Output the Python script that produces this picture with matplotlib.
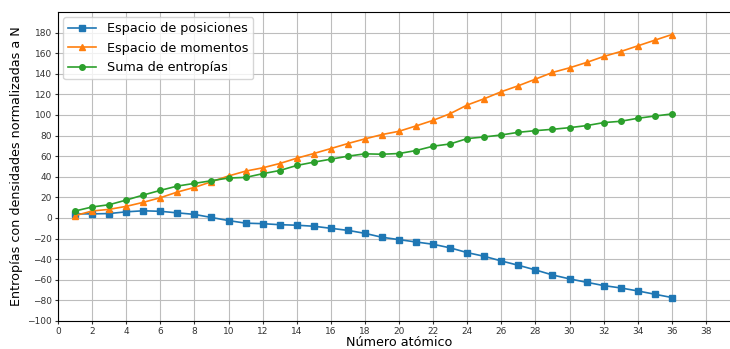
import matplotlib
matplotlib.use("Agg")
import matplotlib.pyplot as plt
import numpy as np

# numero atomico
Z = list(range(1, 37))

# entropia en espacio de posiciones
posiciones = [4.0, 4.0, 4.3, 6.0, 7.0, 6.5, 5.0, 3.5, 0.5, -2.5, -5.0, -5.5,
              -6.5, -7.0, -8.0, -10.0, -12.0, -14.9, -18.7, -21.0, -23.3, -25.5,
              -29.0, -33.6, -37.2, -41.7, -45.9, -50.4, -55.3, -59.1, -62.4, -65.6,
              -67.9, -70.8, -74.0, -77.2]

# entropia en espacio de momentos
momentos = [2.3, 6.8, 8.4, 11.3, 15.2, 19.7, 25.2, 29.7, 35.2, 40.8, 45.5, 48.7,
            52.9, 58.0, 62.6, 67.4, 72.3, 76.8, 81.0, 84.2, 89.4, 94.8, 101.3, 109.7,
            115.8, 122.6, 128.4, 134.8, 141.3, 145.8, 151.0, 156.8, 161.6, 167.1,
            172.6, 178.1]

# suma de entropias
suma = [6.8, 10.7, 12.9, 17.4, 22.3, 26.8, 31.0, 33.6, 36.2, 38.8, 39.4, 43.0,
        46.1, 51.0, 54.2, 57.1, 60.0, 62.3, 61.9, 62.6, 65.5, 69.7, 71.9, 77.1,
        78.7, 80.6, 83.2, 84.8, 86.1, 87.7, 89.7, 92.6, 93.9, 96.8, 99.0, 101.0]

fig = plt.figure(figsize=(7.3, 3.49), dpi=100)
ax = fig.add_axes([58/730, 28/349, 682/730, 309/349])

ax.plot(Z, posiciones, marker='s', markersize=4, linewidth=1.2, label='Espacio de posiciones')
ax.plot(Z, momentos, marker='^', markersize=4, linewidth=1.2, label='Espacio de momentos')
ax.plot(Z, suma, marker='o', markersize=4, linewidth=1.2, label='Suma de entropías')

ax.set_xlim(0, 40)
ax.set_ylim(-100, 200)
ax.set_xticks(np.arange(0, 40, 2))
ax.set_yticks(np.arange(-100, 200, 20))
ax.tick_params(labelsize=6.5, colors='#333333', length=2.5, pad=2)
ax.grid(True, color='#bdbdbd', linewidth=0.8)

ax.set_xlabel('Número atómico', fontsize=9.2, labelpad=0)
ax.set_ylabel('Entropías con densidades normalizadas a N', fontsize=9.2, labelpad=3)
ax.legend(loc='upper left', fontsize=9.2, handlelength=2.2, borderaxespad=0.4)

fig.savefig('out.png', dpi=100)
